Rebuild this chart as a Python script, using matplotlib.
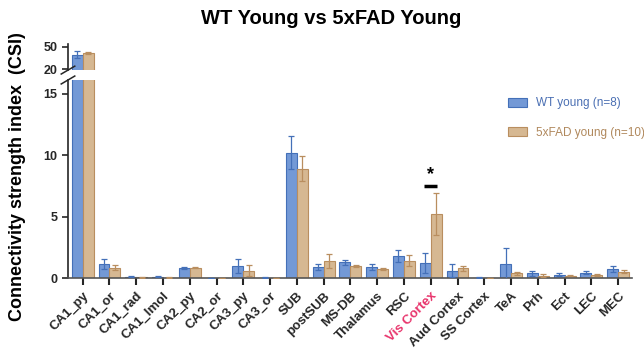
import numpy as np
import matplotlib.pyplot as plt

plt.rcParams['font.family'] = ['Liberation Sans', 'DejaVu Sans']

# REGIONS
regions = ['CA1_py', 'CA1_or', 'CA1_rad', 'CA1_lmol', 'CA2_py', 'CA2_or', 'CA3_py', 'CA3_or',
           'SUB', 'postSUB', 'MS-DB', 'Thalamus', 'RSC', 'Vis Cortex', 'Aud Cortex', 'SS Cortex',
           'TeA', 'Prh', 'Ect', 'LEC', 'MEC']

# CSI MEAN +/- SEM
wt_mean = [39.0, 1.16, 0.12, 0.12, 0.80, 0.02, 1.00, 0.05,
           10.2, 0.94, 1.30, 0.89, 1.81, 1.22, 0.62, 0.05,
           1.14, 0.40, 0.27, 0.46, 0.76]
wt_sem = [4.5, 0.40, 0.03, 0.03, 0.08, 0.01, 0.60, 0.02,
          1.35, 0.25, 0.22, 0.25, 0.50, 0.80, 0.50, 0.02,
          1.30, 0.20, 0.12, 0.15, 0.27]
fad_mean = [41.5, 0.86, 0.08, 0.05, 0.85, 0.03, 0.62, 0.04,
            8.9, 1.40, 1.02, 0.73, 1.43, 5.23, 0.81, 0.03,
            0.40, 0.22, 0.22, 0.27, 0.54]
fad_sem = [1.5, 0.20, 0.02, 0.02, 0.05, 0.01, 0.45, 0.01,
           1.0, 0.55, 0.08, 0.10, 0.45, 1.70, 0.20, 0.01,
           0.10, 0.10, 0.05, 0.10, 0.15]

sig_region = 'Vis Cortex'
sig_y = 7.5

blue, blue_edge = '#7399d6', '#4470b8'
tan, tan_edge = '#d6b892', '#b98e5f'
dark = '#262626'

x = np.arange(len(regions))
w = 0.41

fig = plt.figure(figsize=(6.44, 3.54), dpi=100)
ax_top = fig.add_axes([0.1056, 0.802, 0.875, 0.074])
ax_low = fig.add_axes([0.1056, 0.214, 0.875, 0.560])

for ax in (ax_top, ax_low):
    ax.bar(x - w/2, wt_mean, w, color=blue, edgecolor=blue_edge, lw=0.8, label='WT young (n=8)', zorder=2)
    ax.bar(x + w/2, fad_mean, w, color=tan, edgecolor=tan_edge, lw=0.8, label='5xFAD young (n=10)', zorder=2)
    ax.errorbar(x - w/2, wt_mean, yerr=wt_sem, fmt='none', ecolor=blue_edge, elinewidth=0.9,
                capsize=2.5, capthick=0.9, zorder=3)
    ax.errorbar(x + w/2, fad_mean, yerr=fad_sem, fmt='none', ecolor=tan_edge, elinewidth=0.9,
                capsize=2.5, capthick=0.9, zorder=3)
    ax.set_xlim(-0.55, 20.5)
    for s in ('top', 'right'):
        ax.spines[s].set_visible(False)
    ax.spines['left'].set_color(dark)
    ax.spines['left'].set_linewidth(1.2)
    ax.tick_params(axis='y', colors=dark, width=1.2, length=4, labelsize=9)

# upper panel (broken axis)
ax_top.set_ylim(18.7, 53.6)
ax_top.set_yticks([20, 50])
ax_top.set_yticklabels(['20', '50'], fontweight='bold')
ax_top.spines['bottom'].set_visible(False)
ax_top.set_xticks([])

# lower panel
ax_low.set_ylim(0, 16.1)
ax_low.set_yticks([0, 5, 10, 15])
ax_low.set_yticklabels(['0', '5', '10', '15'], fontweight='bold')
ax_low.spines['bottom'].set_color('#555555')
ax_low.spines['bottom'].set_linewidth(1.2)
ax_low.set_xticks(x)
ax_low.set_xticklabels(regions, rotation=45, ha='right', rotation_mode='anchor',
                       fontsize=9.5, fontweight='bold', color=dark)
ax_low.tick_params(axis='x', colors=dark, width=1.5, length=5, labelcolor=dark)
for lab in ax_low.get_xticklabels():
    if lab.get_text() == sig_region:
        lab.set_color('#e8336b')

# break marks
d = 0.012
kw = dict(color=dark, lw=1.1, clip_on=False)
ax_low.plot([-d, d], [1 - 0.02, 1 + 0.02], transform=ax_low.transAxes, **kw)
ax_top.plot([-d, d], [-0.15, 0.15], transform=ax_top.transAxes, **kw)

# significance
i = regions.index(sig_region)
ax_low.plot([i - 0.24, i + 0.24], [sig_y, sig_y], color='black', lw=2.5, solid_capstyle='butt', zorder=4)
ax_low.text(i, sig_y + 0.2, '*', ha='center', va='bottom', fontsize=13, fontweight='bold')

leg = ax_low.legend(loc='upper left', bbox_to_anchor=(0.772, 0.755), bbox_transform=fig.transFigure,
                    frameon=False, fontsize=8.5, handlelength=1.6, handleheight=0.8,
                    handletextpad=0.8, labelspacing=1.5)
for t, c in zip(leg.get_texts(), ['#4a6fb3', '#b0885c']):
    t.set_color(c)

fig.suptitle('WT Young vs 5xFAD Young', x=0.515, y=0.975, fontsize=14.5, fontweight='bold')
fig.text(0.027, 0.5, 'Connectivity strength index  (CSI)', rotation=90, ha='center', va='center',
         fontsize=13, fontweight='bold')

fig.savefig('out.png', dpi=100)
